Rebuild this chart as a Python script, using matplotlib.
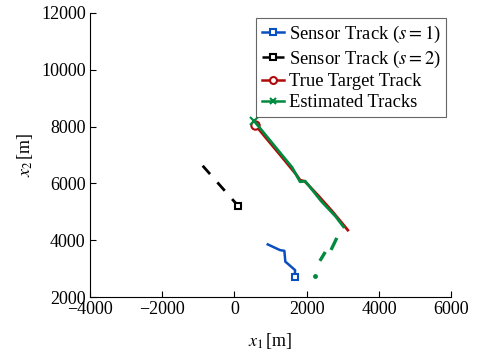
import matplotlib.pyplot as plt
import numpy as np

plt.rcParams['font.family'] = 'Liberation Serif'
plt.rcParams['mathtext.fontset'] = 'stix'
plt.rcParams['font.size'] = 13

# sensor 1 track
s1_x = [922, 1263, 1382, 1410, 1449, 1679, 1670]
s1_y = [3855, 3654, 3630, 3243, 3207, 2950, 2715]
# sensor 2 track
s2_x = [-878, 108]
s2_y = [6622, 5203]
# true target track
true_x = [579, 900, 1300, 1700, 1817, 1950, 2300, 2700, 3138]
true_y = [8054, 7560, 6950, 6330, 6118, 6070, 5600, 5030, 4358]
# estimated tracks (main)
est_x = [543, 800, 1200, 1600, 1817, 1955, 2048, 2400, 2800, 3017]
est_y = [8206, 7800, 7180, 6560, 6059, 6083, 5942, 5380, 4840, 4475]
# estimated track (fragmented)
est2_x = [2241, np.nan, 2390, 2490, np.nan, 2694, 2814]
est2_y = [2739, np.nan, 3327, 3538, np.nan, 3714, 4031]

c_blue = '#0a4fbf'
c_red = '#b00a0a'
c_green = '#008a3e'

fig = plt.figure(figsize=(4.78, 3.58), dpi=100)
ax = fig.add_axes([0.188, 0.170, 0.756, 0.794])

ax.plot(s1_x, s1_y, color=c_blue, lw=1.8)
ax.plot(s1_x[-1], s1_y[-1], 's', color=c_blue, mfc='white', ms=5, mew=1.5)
ax.plot(s2_x, s2_y, '--', color='black', lw=2.0, dashes=(4, 4))
ax.plot(s2_x[-1], s2_y[-1], 's', color='black', mfc='white', ms=5, mew=1.5)
ax.plot(true_x, true_y, color=c_red, lw=2.0)
ax.plot(true_x[0], true_y[0], 'o', color=c_red, mfc='white', ms=6, mew=1.5)
ax.plot(est_x, est_y, color=c_green, lw=2.0)
ax.plot(est_x[0], est_y[0], 'x', color=c_green, ms=6, mew=1.5)
ax.plot(est2_x, est2_y, color=c_green, lw=2.4)
ax.plot(est2_x[0], est2_y[0], 'o', color=c_green, ms=2.5)

# legend handles
ax.plot([], [], '-s', color=c_blue, mfc='white', ms=5, mew=1.5, lw=1.8,
        label=r'Sensor Track ($s = 1$)')
ax.plot([], [], '--s', color='black', mfc='white', ms=5, mew=1.5, lw=1.8,
        label=r'Sensor Track ($s = 2$)')
ax.plot([], [], '-o', color=c_red, mfc='white', ms=5, mew=1.5, lw=1.8,
        label='True Target Track')
ax.plot([], [], '-x', color=c_green, ms=5, mew=1.5, lw=1.8,
        label='Estimated Tracks')
leg = ax.legend(loc='upper right', bbox_to_anchor=(0.986, 0.982), fancybox=False,
                edgecolor='#404040', handlelength=1.2, handletextpad=0.25,
                borderpad=0.3, labelspacing=0.2, borderaxespad=0.0,
                fontsize=13.4)
leg.get_frame().set_linewidth(0.8)

ax.set_xlim(-4000, 6000)
ax.set_ylim(2000, 12000)
ax.set_xticks([-4000, -2000, 0, 2000, 4000, 6000])
ax.set_yticks([2000, 4000, 6000, 8000, 10000, 12000])
ax.set_xticklabels(['\u22124000', '\u22122000', '0', '2000', '4000', '6000'])
ax.tick_params(direction='in', length=4, width=0.8, pad=3)
for s in ['top', 'right']:
    ax.spines[s].set_visible(False)
ax.set_xlabel(r'$x_1\,$[m]', labelpad=9)
ax.set_ylabel(r'$x_2\,$[m]', labelpad=4)

fig.savefig('out.png', dpi=100)
